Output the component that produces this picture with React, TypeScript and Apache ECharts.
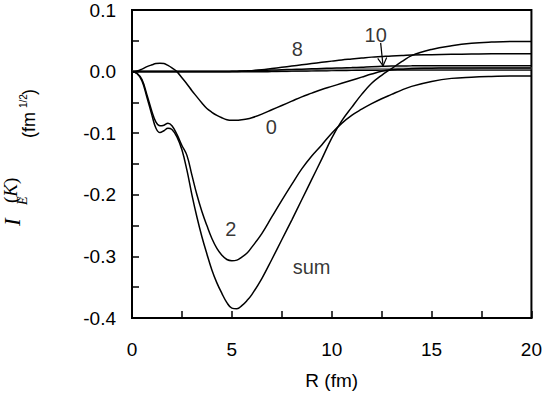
import React, { useEffect, useRef } from "react";
import * as echarts from "echarts";

// Radial grid R (fm)
const R = [0, 0.25, 0.5, 0.75, 1, 1.2, 1.4, 1.6, 1.8, 2, 2.25, 2.5, 2.75, 3, 3.25, 3.5, 3.75, 4, 4.25, 4.5, 4.75, 5, 5.25, 5.5, 5.75, 6, 6.5, 7, 7.5, 8, 8.5, 9, 9.5, 10, 10.5, 11, 11.5, 12, 12.5, 13, 13.5, 14, 15, 16, 17, 18, 19, 20];

const sumValues = [0, -0.003, -0.015, -0.042, -0.071, -0.092, -0.099, -0.096, -0.092, -0.094, -0.106, -0.127, -0.16, -0.2, -0.236, -0.268, -0.296, -0.322, -0.343, -0.36, -0.375, -0.384, -0.385, -0.38, -0.372, -0.362, -0.336, -0.305, -0.273, -0.241, -0.208, -0.175, -0.142, -0.108, -0.08, -0.058, -0.037, -0.019, -0.006, 0.005, 0.016, 0.026, 0.036, 0.042, 0.046, 0.048, 0.049, 0.049];

const k2Values = [0, -0.003, -0.013, -0.038, -0.065, -0.082, -0.088, -0.087, -0.084, -0.088, -0.102, -0.12, -0.136, -0.168, -0.2, -0.227, -0.25, -0.271, -0.287, -0.298, -0.305, -0.307, -0.306, -0.301, -0.295, -0.285, -0.263, -0.236, -0.209, -0.183, -0.158, -0.137, -0.119, -0.1, -0.084, -0.071, -0.061, -0.052, -0.044, -0.037, -0.03, -0.024, -0.016, -0.011, -0.009, -0.0078, -0.007, -0.007];

const k0Values = [0, 0.001, 0.004, 0.008, 0.011, 0.013, 0.0135, 0.013, 0.01, 0.006, 0, -0.01, -0.02, -0.031, -0.041, -0.051, -0.06, -0.066, -0.071, -0.075, -0.078, -0.079, -0.079, -0.078, -0.077, -0.075, -0.069, -0.062, -0.055, -0.048, -0.041, -0.035, -0.029, -0.024, -0.019, -0.014, -0.009, -0.004, 0.0005, 0.003, 0.004, 0.005, 0.0055, 0.006, 0.006, 0.006, 0.006, 0.006];

const k8Values = [0, 0, 0, 0, 0, 0, 0, 0, 0, 0, 0, 0, 0, 0, 0, 0, 0, 0, 0, 0, 0, 0, 0.0002, 0.0005, 0.001, 0.0015, 0.003, 0.005, 0.007, 0.009, 0.011, 0.013, 0.015, 0.017, 0.019, 0.0205, 0.022, 0.0235, 0.0245, 0.0255, 0.026, 0.027, 0.0275, 0.028, 0.0285, 0.029, 0.029, 0.029];

const k10Values = [0, 0, 0, 0, 0, 0, 0, 0, 0, 0, 0, 0, 0, 0, 0, 0, 0, 0, 0, 0, 0.0002, 0.0005, 0.0007, 0.001, 0.0012, 0.0015, 0.002, 0.0025, 0.003, 0.0035, 0.004, 0.0045, 0.005, 0.0055, 0.006, 0.0065, 0.0072, 0.008, 0.0085, 0.009, 0.0092, 0.0093, 0.0095, 0.0095, 0.0095, 0.0095, 0.0095, 0.0095];

const k4Values = [0, 0, 0, 0, 0, 0, 0, 0, 0, 0, 0, 0, 0, 0, 0, 0, 0, 0, 0, 0, 0, 0, 0, 0, 0, 0, 0, 0.0002, 0.0004, 0.0006, 0.0008, 0.001, 0.0012, 0.0014, 0.0016, 0.0018, 0.002, 0.0021, 0.0022, 0.0023, 0.0024, 0.0025, 0.0025, 0.0025, 0.0025, 0.0025, 0.0025, 0.0025];

const k6Values = [0, 0, 0, 0, 0, 0, 0, 0, 0, 0, 0, 0, 0, 0, 0, 0, 0, 0, 0, 0, 0, 0, 0, 0, 0, 0, 0.0002, 0.0005, 0.0008, 0.0012, 0.0016, 0.002, 0.0024, 0.0028, 0.0031, 0.0034, 0.0037, 0.004, 0.0042, 0.0044, 0.0046, 0.0048, 0.005, 0.0051, 0.0052, 0.0053, 0.0053, 0.0053];

// Curve annotations
const labelTexts = ["8", "10", "0", "2", "sum"];
const labelR = [8.28, 12.2, 6.98, 4.95, 8.99];
const labelV = [0.036, 0.06, -0.0895, -0.255, -0.318];

// Arrow for "10"
const arrowFrom = [12.45, 0.0466];
const arrowTo = [12.57, 0.0093];

const zip = (vals: number[]) => R.map((r, i) => [r, vals[i]]);

export default function App() {
  const ref = useRef<HTMLDivElement>(null);
  useEffect(() => {
    if (!ref.current) return;
    document.body.style.margin = "0";
    const chart = echarts.init(ref.current, null, { renderer: "svg" });
    const sans = "Liberation Sans, Arial, sans-serif";
    const serif = "Liberation Serif, Times New Roman, serif";
    const lineSeries = (name: string, vals: number[], color = "#000", width = 1.5) => ({
      name,
      type: "line",
      data: zip(vals),
      showSymbol: false,
      symbol: "none",
      smooth: 0.4,
      lineStyle: { color, width },
      silent: true,
      z: 3,
    });
    chart.setOption({
      animation: false,
      backgroundColor: "#fff",
      grid: { left: 132, right: 13, top: 10, bottom: 81, show: true, borderColor: "#000", borderWidth: 2, backgroundColor: "transparent" },
      xAxis: {
        type: "value",
        min: 0,
        max: 20,
        interval: 2.5,
        name: "R (fm)",
        nameLocation: "middle",
        nameGap: 53,
        nameTextStyle: { fontFamily: sans, fontSize: 19, color: "#000" },
        axisLine: { show: true, onZero: false, lineStyle: { color: "#000", width: 2 } },
        axisTick: { show: true, inside: true, length: 7, interval: 0, lineStyle: { color: "#000", width: 1.5 } },
        axisLabel: {
          margin: 22,
          fontFamily: sans,
          fontSize: 19,
          color: "#000",
          showMinLabel: true,
          showMaxLabel: true,
          formatter: (v: number) => (Math.abs(v / 5 - Math.round(v / 5)) < 1e-6 ? String(Math.round(v)) : ""),
        },
        splitLine: { show: false },
      },
      yAxis: {
        type: "value",
        min: -0.4,
        max: 0.1,
        interval: 0.05,
        axisLine: { show: true, onZero: false, lineStyle: { color: "#000", width: 2 } },
        axisTick: { show: true, inside: true, length: 7, interval: 0, lineStyle: { color: "#000", width: 1.5 } },
        axisLabel: {
          margin: 16,
          fontFamily: sans,
          fontSize: 19,
          color: "#000",
          formatter: (v: number) => {
            if (Math.abs(v * 10 - Math.round(v * 10)) > 1e-6) return "";
            return Math.abs(v) < 1e-9 ? "0.0" : v.toFixed(1);
          },
        },
        splitLine: { show: false },
      },
      series: [
        lineSeries("6", k6Values, "#888", 2.5),
        lineSeries("4", k4Values, "#000", 1.2),
        lineSeries("10", k10Values),
        lineSeries("8", k8Values),
        lineSeries("0", k0Values),
        lineSeries("2", k2Values),
        lineSeries("sum", sumValues),
        {
          type: "scatter",
          data: labelTexts.map((t, i) => ({ name: t, value: [labelR[i], labelV[i]] })),
          symbolSize: 0,
          silent: true,
          label: {
            show: true,
            position: "inside",
            formatter: (p: any) => p.name,
            fontFamily: sans,
            fontSize: 20,
            color: "#000",
          },
          z: 5,
        },
      ],
    });

    const p1 = chart.convertToPixel({ gridIndex: 0 }, arrowFrom) as number[];
    const p2 = chart.convertToPixel({ gridIndex: 0 }, arrowTo) as number[];
    const dx = p2[0] - p1[0];
    const dy = p2[1] - p1[1];
    const len = Math.hypot(dx, dy);
    const ux = dx / len, uy = dy / len;
    const hl = 8, hw = 4.5;
    const bx = p2[0] - ux * hl, by = p2[1] - uy * hl;
    const headA = [bx - uy * hw, by + ux * hw];
    const headB = [bx + uy * hw, by - ux * hw];

    // local coords in rotated group: (lx, ly) -> screen (ly, 232 - lx)
    const t = (text: string, lx: number, ly: number, fontSize: number, fontFamily: string, fontStyle = "normal", rich?: any) => ({
      type: "text",
      x: lx,
      y: ly,
      silent: true,
      style: {
        text,
        fill: "#000",
        fontSize,
        fontFamily,
        fontStyle,
        align: "left",
        textAlign: "left",
        verticalAlign: "middle",
        textVerticalAlign: "middle",
        rich,
      },
    });

    chart.setOption({
      graphic: [
        {
          type: "line",
          silent: true,
          shape: { x1: p1[0], y1: p1[1], x2: p2[0], y2: p2[1] },
          style: { stroke: "#000", lineWidth: 1.2 },
        },
        {
          type: "polyline",
          silent: true,
          shape: { points: [headA, p2, headB] },
          style: { stroke: "#000", lineWidth: 1.2, fill: null },
        },
        {
          type: "group",
          x: 0,
          y: 232,
          rotation: Math.PI / 2,
          silent: true,
          children: [
            t("I", 6, 12.5, 23, serif, "italic"),
            t("{p|(}{k|K}{p|)}", 29, 10, 19, serif, "normal", {
              p: { fontFamily: serif, fontSize: 19, color: "#000" },
              k: { fontFamily: serif, fontSize: 19, fontStyle: "italic", color: "#000" },
            }),
            t("E", 27, 22.5, 14, serif, "italic"),
            t("(fm", 94, 29, 18, sans),
            t("1/2", 124, 23, 10, sans),
            t(")", 137, 29, 18, sans),
          ],
        },
      ],
    });

    return () => chart.dispose();
  }, []);
  return <div ref={ref} style={{ position: "fixed", left: 0, top: 0, width: 545, height: 399 }} />;
}
